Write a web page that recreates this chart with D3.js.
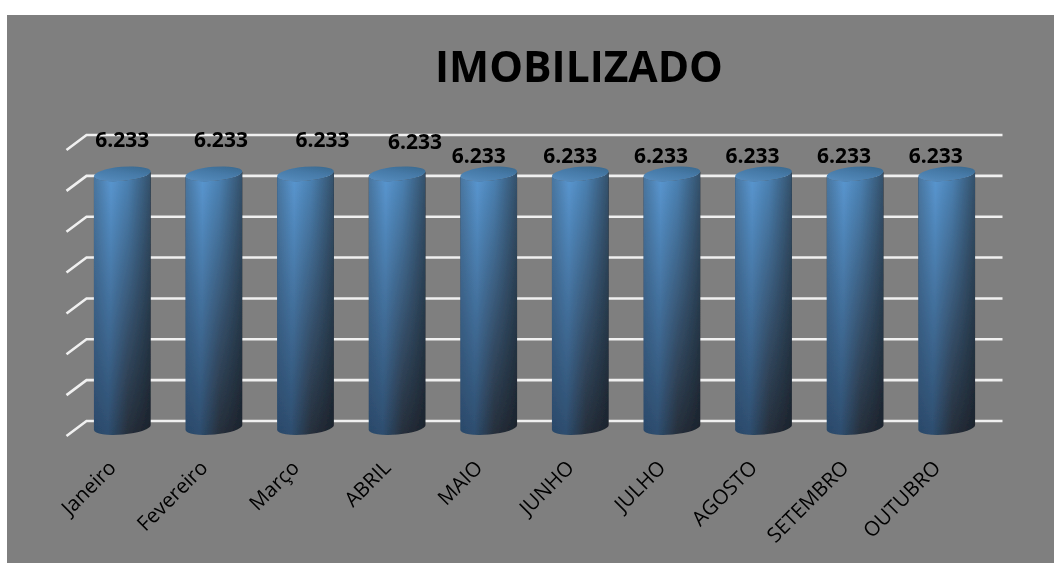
<!DOCTYPE html>
<html>
<head>
<meta charset="utf-8">
<title>IMOBILIZADO</title>
<script src="https://cdn.jsdelivr.net/npm/d3@7"></script>
<style>
    html, body { margin: 0; padding: 0; background: #fff; }
    svg { display: block; }
    text { font-family: "Open Sans", sans-serif; fill: #000; }
    .title { font-size: 42.5px; font-weight: 700; }
    .value-label { font-size: 21px; font-weight: 700; text-anchor: middle; }
    .x-label { font-size: 20.5px; text-anchor: end; }
    .grid { stroke: #f0f0f0; stroke-width: 2.6; fill: none; }
</style>
</head>
<body>
<div id="chart"></div>
<script>
var TITLE = 'IMOBILIZADO'
var months = ['Janeiro', 'Fevereiro', 'Março', 'ABRIL', 'MAIO', 'JUNHO', 'JULHO', 'AGOSTO', 'SETEMBRO', 'OUTUBRO']
var values = [6233, 6233, 6233, 6233, 6233, 6233, 6233, 6233, 6233, 6233]

// the data labels were dragged by hand in the original, first four sit higher
var labelNudgeX = [0, 7, 17, 18, -10, -10, -11, -11, -11, -11]
var labelNudgeY = [-19, -19, -19, -17, -3, -3, -3, -3, -3, -3]

var WIDTH = 1054
var HEIGHT = 563
var DEPTH_X = 20
var DEPTH_Y = 15
var TILT = -5

var svg = d3.select('#chart').append('svg')
    .attr('width', WIDTH)
    .attr('height', HEIGHT)

var x = d3.scaleBand()
    .domain(months)
    .range([76.5, 992.5])
    .paddingInner(0.378)
    .paddingOuter(0.189)

var y = d3.scaleLinear()
    .domain([0, 7000])
    .range([421, 135])

var defs = svg.append('defs')

function addGradient(id, stops, x2, y1, y2) {
    var g = defs.append('linearGradient')
        .attr('id', id)
        .attr('x1', 0).attr('y1', y1)
        .attr('x2', x2).attr('y2', y2)
    stops.forEach(function (s) {
        g.append('stop').attr('offset', s[0]).attr('stop-color', s[1])
    })
}

addGradient('side-light', [[0, '#4a769f'], [0.3, '#5a98d2'], [0.6, '#4c83b5'], [1, '#34516b']], 1, 0, 0)
addGradient('side-dark', [[0, '#2b496a'], [0.25, '#2e4e6f'], [0.6, '#272f3b'], [1, '#1b222b']], 1, 0, 0)
addGradient('cap', [[0, '#5a90c2'], [0.55, '#467aa8'], [1, '#386588']], 1, 1, 0)
addGradient('fade', [[0, '#fff'], [1, '#000']], 0, 0, 1)

defs.append('mask')
    .attr('id', 'side-fade')
    .attr('maskContentUnits', 'objectBoundingBox')
    .append('rect')
    .attr('width', 1)
    .attr('height', 1)
    .attr('fill', 'url(#fade)')

// the source is a soft screenshot, a touch of blur gets the same edges
defs.append('filter')
    .attr('id', 'soft')
    .append('feGaussianBlur')
    .attr('stdDeviation', 0.45)

// background panel
svg.append('rect')
    .attr('x', 7)
    .attr('y', 15)
    .attr('width', WIDTH - 7)
    .attr('height', HEIGHT - 15)
    .attr('fill', '#7f7f7f')

var plot = svg.append('g')
    .attr('filter', 'url(#soft)')

plot.append('text')
    .attr('class', 'title')
    .attr('x', 579)
    .attr('y', 82)
    .attr('text-anchor', 'middle')
    .text(TITLE)

// gridlines: wall line plus the short slanted bit on the floor side
var wallLeft = 76.5 + DEPTH_X / 2
var wallRight = 992.5 + DEPTH_X / 2

plot.append('g')
    .selectAll('path')
    .data(y.ticks(7))
    .join('path')
    .attr('class', 'grid')
    .attr('d', function (d) {
        return 'M' + (wallLeft - DEPTH_X) + ',' + (y(d) + DEPTH_Y) +
            'L' + wallLeft + ',' + y(d) +
            'H' + wallRight
    })

function cylinderSide(cx, top, bottom, rx, ry) {
    var a = TILT * Math.PI / 180
    var ex = rx * Math.cos(a)
    var ey = rx * Math.sin(a)
    return 'M' + (cx - ex) + ',' + (top - ey) +
        'L' + (cx - ex) + ',' + (bottom - ey) +
        'A' + rx + ',' + ry + ' ' + TILT + ' 0 0 ' + (cx + ex) + ',' + (bottom + ey) +
        'L' + (cx + ex) + ',' + (top + ey) +
        'A' + rx + ',' + ry + ' ' + TILT + ' 0 1 ' + (cx - ex) + ',' + (top - ey) + 'Z'
}

var rows = months.map(function (m, i) {
    return { month: m, value: values[i], i: i }
})

var bars = plot.append('g')
    .selectAll('g')
    .data(rows)
    .join('g')
    .attr('class', 'bar')

var rx = x.bandwidth() / 2
var ry = 7

function barCx(d) { return x(d.month) + rx }
function barTop(d) { return y(d.value) + DEPTH_Y / 2 }
function barBottom() { return y(0) + DEPTH_Y / 2 - 1 }

bars.append('path')
    .attr('fill', 'url(#side-dark)')
    .attr('d', function (d) { return cylinderSide(barCx(d), barTop(d), barBottom(), rx, ry) })

bars.append('path')
    .attr('fill', 'url(#side-light)')
    .attr('mask', 'url(#side-fade)')
    .attr('d', function (d) { return cylinderSide(barCx(d), barTop(d), barBottom(), rx, ry) })

bars.append('ellipse')
    .attr('fill', 'url(#cap)')
    .attr('rx', rx)
    .attr('ry', ry)
    .attr('transform', function (d) {
        return 'translate(' + barCx(d) + ',' + barTop(d) + ') rotate(' + TILT + ')'
    })

plot.append('g')
    .selectAll('text')
    .data(rows)
    .join('text')
    .attr('class', 'value-label')
    .attr('x', function (d) { return barCx(d) + labelNudgeX[d.i] })
    .attr('y', function (d) { return y(d.value) + labelNudgeY[d.i] })
    .text(function (d) { return d3.format(',')(d.value).replace(',', '.') })

plot.append('g')
    .selectAll('text')
    .data(rows)
    .join('text')
    .attr('class', 'x-label')
    .attr('transform', function (d) {
        return 'translate(' + (barCx(d) - 5) + ',469) rotate(-45)'
    })
    .text(function (d) { return d.month })
</script>
</body>
</html>
